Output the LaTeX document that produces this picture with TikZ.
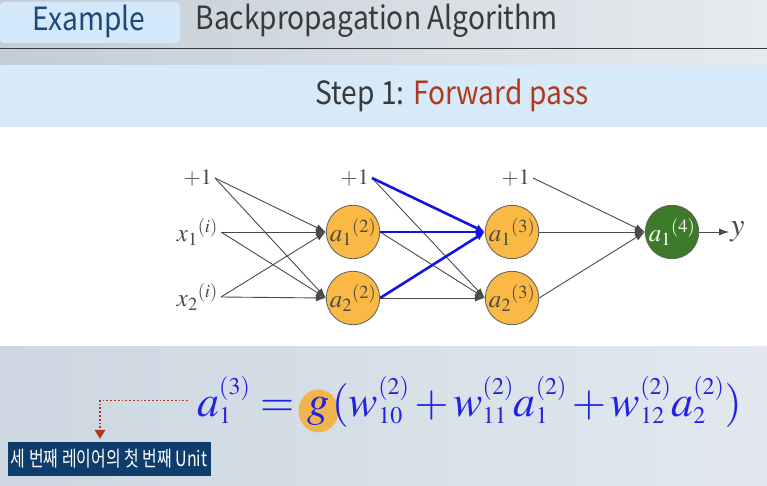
\documentclass[tikz,border=0pt]{standalone}
\usepackage{mathptmx}
\usepackage{fontspec}
\setmainfont{Liberation Serif}
\newfontfamily\slidefont[FakeStretch=0.88]{Noto Sans CJK KR}
\newfontfamily\krfont[FakeStretch=0.76]{Noto Sans CJK KR}
\DeclareMathSizes{44}{44}{24}{18}
\usetikzlibrary{arrows.meta,positioning,shapes.geometric,calc}
\definecolor{navy}{HTML}{1B4A78}
\definecolor{charcoal}{HTML}{3A3A3A}
\definecolor{rust}{HTML}{B3391C}
\definecolor{wire}{HTML}{4A4A4A}
\definecolor{hotblue}{HTML}{1414E0}
\definecolor{amber}{HTML}{F9B944}
\definecolor{rim}{HTML}{5E5E5E}
\definecolor{leaf}{HTML}{3D7A29}
\definecolor{ink}{HTML}{4A4A4A}
\definecolor{eqblue}{HTML}{2222E6}
\definecolor{glow}{HTML}{F7AE34}
\definecolor{tagnavy}{HTML}{0E3D6C}
\definecolor{hdrL}{HTML}{C4CDD6}
\definecolor{hdrR}{HTML}{E6EBEF}
\definecolor{band}{HTML}{D6EAFA}
\definecolor{tabfill}{HTML}{D3E9F9}
\definecolor{footL}{HTML}{CCD7E1}
\definecolor{footR}{HTML}{E2E8EE}
\tikzset{
  unit/.style={circle,draw=rim,fill=amber,line width=0.8pt,minimum size=52pt,inner sep=0pt,text=ink,font=\fontsize{25}{27}\selectfont},
  outunit/.style={unit,fill=leaf,text=white},
  term/.style={text=ink,inner sep=3pt,font=\fontsize{25}{27}\selectfont},
  bias/.style={term,font=\fontsize{22}{24}\selectfont},
  flow/.style={-{Latex[length=10pt,width=7pt]},line width=0.9pt,draw=wire},
  hot/.style={flow,line width=2.6pt,draw=hotblue,-{Latex[length=9pt,width=8pt]}},
  pointer/.style={-{Triangle[length=9pt,width=11pt,fill=rust,line width=0pt]},draw=rust,line width=1.8pt,dotted,shorten >=3pt},
  formula/.style={text=eqblue,inner sep=0pt,font=\fontsize{44}{48}\selectfont},
  every node/.style={font=\slidefont}
}
\begin{document}
\begin{tikzpicture}[x=1pt,y=-1pt,node distance=30pt]
\useasboundingbox (0,0) rectangle (767,486);
% backdrop
\shade[left color=hdrL,right color=hdrR] (0,0) rectangle (767,65);
\fill[band] (0,65) rectangle (767,127);
\fill[white] (0,127) rectangle (767,346);
\shade[left color=footL,right color=footR] (0,346) rectangle (767,486);
\fill[tabfill,rounded corners=4pt] (0,2) rectangle (180,43);
\draw[charcoal,line width=1pt] (0,49) -- (767,49);

% titles
\node[text=navy,font=\slidefont\fontsize{32}{34}\selectfont] (tab) at (89,21) {Example};
\node[text=charcoal,font=\slidefont\fontsize{32}{34}\selectfont,anchor=west] (title) at (192,21) {Backpropagation Algorithm};
\node[font=\slidefont\fontsize{32}{34}\selectfont] (stepname) at (452,95) {\textcolor{charcoal}{Step 1:} \textcolor{rust}{Forward pass}};

% network
\node[bias,anchor=east] (b1) at (215,178) {$+1$};
\node[term,anchor=east] (x1) at (221,232) {$x_1{}^{(i)}$};
\node[term,anchor=east] (x2) at (221,297) {$x_2{}^{(i)}$};
\node[unit] (h21) at (353,232) {$a_1{}^{(2)}$};
\node[unit] (h22) at (353,298) {$a_2{}^{(2)}$};
\node[bias,anchor=east] (b2) at (372,178) {$+1$};
\node[unit] (h31) at (512,232) {$a_1{}^{(3)}$};
\node[unit] (h32) at (512,298) {$a_2{}^{(3)}$};
\node[bias,anchor=east] (b3) at (533,178) {$+1$};
\node[outunit] (o41) at (672,232) {$a_1{}^{(4)}$};
\node[term,right=30pt of o41,inner sep=1pt,font=\fontsize{32}{34}\selectfont] (yout) {$y$};

\foreach \s in {b1,x1,x2}
  \foreach \t in {h21,h22}
    \draw[flow] (\s.east) -- (\t.west);
\foreach \s in {b2,h21,h22}
  \draw[flow] (\s.east) -- (h32.west);
\foreach \s in {b2,h21,h22}
  \draw[hot] (\s.east) -- (h31.west);
\foreach \s in {b3,h31,h32}
  \draw[flow] (\s.east) -- (o41.west);
\draw[flow] (o41) -- (yout);

% equation
\node[formula,anchor=base west] (lhs) at (197,416) {$\thickmuskip=4mu a_1^{(3)} ={}$};
\node[formula,anchor=base west,ellipse,fill=glow,fill opacity=0.85,text opacity=1,minimum width=40pt,minimum height=43pt] (gfun) at ([xshift=-6pt]lhs.base east) {$g$};
\node[formula,anchor=base west] (rhs) at ([xshift=-7pt]gfun.base east) {$\medmuskip=2mu (w_{10}^{(2)}+w_{11}^{(2)}a_1^{(2)}+w_{12}^{(2)}a_2^{(2)})$};

% caption
\node[fill=tagnavy,text=white,font=\krfont\fontsize{21}{23}\selectfont,minimum width=203pt,minimum height=34pt,inner sep=2pt] (unittag) at (109,459) {세 번째 레이어의 첫 번째 Unit};
\draw[pointer] ([xshift=-9pt]lhs.west) -| ([xshift=-9pt]unittag.north);
\end{tikzpicture}
\end{document}
